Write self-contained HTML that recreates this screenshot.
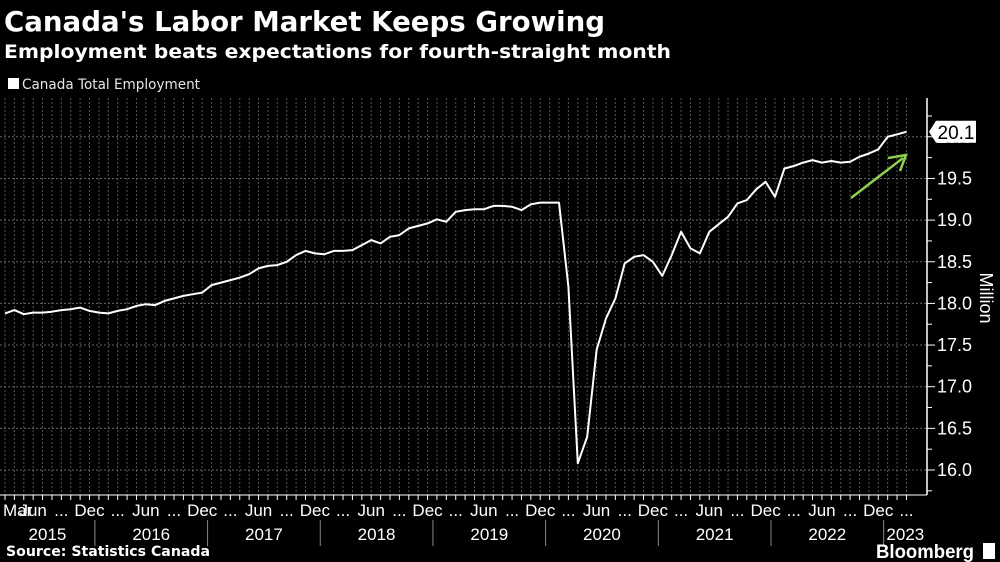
<!DOCTYPE html>
<html><head><meta charset="utf-8"><style>
html,body{margin:0;padding:0;background:#000;}
svg{display:block;}
</style></head><body>
<svg id="chart" width="1000" height="562" viewBox="0 0 1000 562" xmlns="http://www.w3.org/2000/svg">
<rect x="0" y="0" width="1000" height="562" fill="#000"/>
<text x="4" y="31" fill="#fff" font-family="DejaVu Sans, Liberation Sans, sans-serif" font-weight="bold" font-size="28" textLength="601" lengthAdjust="spacingAndGlyphs">Canada's Labor Market Keeps Growing</text>
<text x="4" y="58" fill="#fff" font-family="DejaVu Sans, Liberation Sans, sans-serif" font-weight="bold" font-size="19" textLength="667" lengthAdjust="spacingAndGlyphs">Employment beats expectations for fourth-straight month</text>
<rect x="8" y="78" width="11" height="11" fill="#fff"/>
<text x="22" y="89" fill="#e6e6e6" font-family="DejaVu Sans, Liberation Sans, sans-serif" font-size="14" textLength="178" lengthAdjust="spacingAndGlyphs">Canada Total Employment</text>
<g id="grid"></g>
<line x1="927" y1="98" x2="927" y2="495" stroke="#fff" stroke-width="1.5"/>
<line x1="0" y1="495" x2="927" y2="495" stroke="#fff" stroke-width="1"/>
<g id="yaxis"></g>
<g id="xaxis"></g>
<text x="0" y="0" transform="translate(980,298) rotate(90)" text-anchor="middle" fill="#fff" font-family="Liberation Sans, sans-serif" font-size="18">Million</text>
<path id="series" fill="none" stroke="#fff" stroke-width="2" stroke-linejoin="round"/>
<g>
<line x1="851" y1="198" x2="903" y2="158" stroke="#8fd14f" stroke-width="2.5"/>
<polyline points="888,158 906,155 900,171" fill="none" stroke="#8fd14f" stroke-width="2.5"/>
</g>
<g id="lastlabel"></g>
<text x="6" y="556" fill="#fff" font-family="DejaVu Sans, Liberation Sans, sans-serif" font-weight="bold" font-size="14" textLength="204" lengthAdjust="spacingAndGlyphs">Source: Statistics Canada</text>
<text x="876" y="558" fill="#fff" font-family="Liberation Sans, sans-serif" font-weight="bold" font-size="19" textLength="98" lengthAdjust="spacingAndGlyphs">Bloomberg</text>
<rect x="983" y="543" width="12" height="16" fill="#fff"/>
</svg>
<script>
const values = [17.88,17.92,17.87,17.89,17.89,17.90,17.92,17.93,17.95,17.91,17.89,17.88,17.91,17.93,17.97,17.99,17.98,18.03,18.06,18.09,18.11,18.13,18.22,18.25,18.28,18.31,18.35,18.42,18.45,18.46,18.50,18.58,18.63,18.60,18.59,18.63,18.63,18.64,18.70,18.76,18.72,18.80,18.82,18.90,18.93,18.96,19.01,18.98,19.10,19.12,19.13,19.13,19.17,19.17,19.16,19.12,19.19,19.21,19.21,19.21,18.20,16.08,16.40,17.44,17.82,18.06,18.48,18.56,18.58,18.50,18.33,18.58,18.86,18.66,18.60,18.86,18.95,19.04,19.20,19.24,19.37,19.46,19.28,19.62,19.65,19.69,19.72,19.69,19.71,19.69,19.70,19.76,19.80,19.85,20.00,20.03,20.06];
const startYear = 2015;
const startMonth = 2; // March (0-based)
const yTicks = [16.0,16.5,17.0,17.5,18.0,18.5,19.0,19.5,20.0];
const years = ["2015","2016","2017","2018","2019","2020","2021","2022","2023"];
const monthNames = ["Jan","Feb","Mar","Apr","May","Jun","Jul","Aug","Sep","Oct","Nov","Dec"];
const lastLabel = "20.1";

const NS = "http://www.w3.org/2000/svg";
const X0 = 5, DX = 9.39;
function xs(i){ return X0 + i*DX; }
function ys(v){ return 470 - (v-16)*83.3; }
function mk(tag, attrs, parent){ const e=document.createElementNS(NS,tag); for(const k in attrs) e.setAttribute(k,attrs[k]); parent.appendChild(e); return e; }

const grid=document.getElementById('grid');
for(let i=0;i<values.length;i++){
  const l=mk('line',{x1:xs(i),x2:xs(i),y1:98,y2:495,stroke:'#555','stroke-width':1,'stroke-dasharray':'2,2'},grid);
  
  
}
const yax=document.getElementById('yaxis');
for(let t=15.75;t<=20.26;t+=0.25){
  const major = Math.abs((t*2)-Math.round(t*2))<1e-6;
  if(major && t>=15.99 && t<=20.01){
    const g=mk('line',{x1:0,x2:927,y1:ys(t),y2:ys(t),stroke:'#666','stroke-width':1,'stroke-dasharray':'2,2'},grid);
    
    
  }
  const tk=mk('line',{x1:927,x2:major?935:932,y1:ys(t),y2:ys(t),stroke:'#fff','stroke-width':1},yax);
  
  
}
yTicks.forEach(t=>{
  const tx=mk('text',{x:937,y:ys(t)+6,fill:'#fff','font-family':'Liberation Sans Narrow, Liberation Sans, sans-serif','font-size':18},yax);
  tx.textContent=t.toFixed(1);
  
  
});

let d='';
values.forEach((v,i)=>{ d+=(i?'L':'M')+xs(i).toFixed(1)+','+ys(v).toFixed(1); });
document.getElementById('series').setAttribute('d',d);

const xax=document.getElementById('xaxis');
const FF='Liberation Sans Narrow, Liberation Sans, sans-serif';
for(let i=0;i<values.length;i++){
  const m=(startMonth+i)%12;
  const tk=mk('line',{x1:xs(i),x2:xs(i),y1:495,y2:500,stroke:'#fff','stroke-width':1},xax);
  
  
  let label=null, anchor='middle';
  if(i===0){label=monthNames[m]; anchor='start';}
  else if(m===11||m===5){label=monthNames[m];}
  else if(m===2||m===8){label='...';}
  if(label){
    const t=mk('text',{x:i===0?3:xs(i),y:516,fill:'#fff','font-family':FF,'font-size':17,'text-anchor':anchor},xax);
    t.textContent=label;
    
    
  }
  if(m===0){
    const dv=mk('line',{x1:xs(i)-4,x2:xs(i)-4,y1:520,y2:546,stroke:'#888','stroke-width':1},xax);
    
    
  }
}
years.forEach((y,k)=>{
  const s = k===0 ? 0 : xs(12*k - startMonth)-4;
  const e = Math.min(xs(12*(k+1) - startMonth)-4, 927);
  const t=mk('text',{x:(s+e)/2,y:540,fill:'#fff','font-family':FF,'font-size':17,'text-anchor':'middle'},xax);
  t.textContent=y;
  
  
});

const ll=document.getElementById('lastlabel');
const ly=ys(values[values.length-1]);
const bx=mk('path',{d:`M929,${ly} L936,${ly-11} L976,${ly-11} L976,${ly+11} L936,${ly+11} Z`,fill:'#fff'},ll);


const lt=mk('text',{x:956,y:ly+7,fill:'#000','font-family':FF,'font-size':19,'text-anchor':'middle'},ll);
lt.textContent=lastLabel;


</script>
</body></html>
